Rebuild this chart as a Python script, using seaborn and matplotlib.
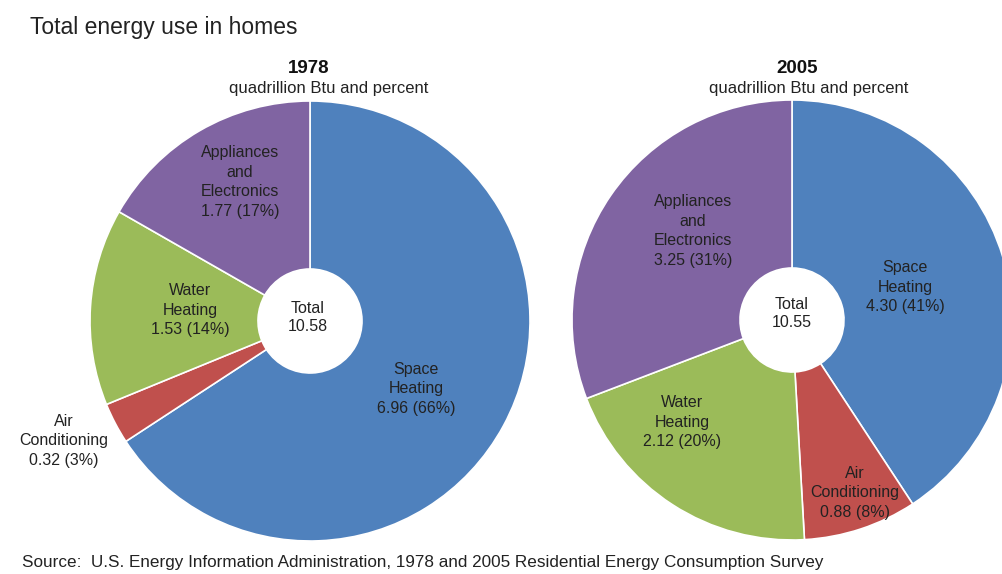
import matplotlib
matplotlib.use("Agg")
import matplotlib.pyplot as plt
import seaborn as sns

# data
categories = ["Space\nHeating", "Air\nConditioning", "Water\nHeating", "Appliances\nand\nElectronics"]
use_1978 = [6.96, 0.32, 1.53, 1.77]
pct_1978 = [66, 3, 14, 17]
total_1978 = 10.58
use_2005 = [4.30, 0.88, 2.12, 3.25]
pct_2005 = [41, 8, 20, 31]
total_2005 = 10.55

sns.set_theme(style="white")
plt.rcParams["font.family"] = ["Liberation Sans", "DejaVu Sans"]
colors = ["#4f81bd", "#c0504d", "#9bbb59", "#8064a2"]

W, H = 1003, 574
fig = plt.figure(figsize=(W / 100, H / 100), dpi=100)
ax = fig.add_axes([0, 0, 1, 1])

R, HOLE = 220, 52
pies = [
    (use_1978, pct_1978, total_1978, "1978", (310, H - 321), (308, H - 317), (309, 329),
     [(416, H - 389), (64, H - 441), (190, H - 310), (240, H - 182)]),
    (use_2005, pct_2005, total_2005, "2005", (792, H - 320), (792, H - 313), (797, 809),
     [(905, H - 287), (855, H - 493), (682, H - 422), (693, H - 231)]),
]

txt = "#222222"
fs = 11.5
for vals, pcts, total, year, center, tot_pos, head_x, label_pos in pies:
    ax.pie(vals, colors=colors, startangle=90, counterclock=False,
           center=center, radius=R,
           wedgeprops=dict(width=R - HOLE, edgecolor="white", linewidth=1.2))
    for cat, v, p, (lx, ly) in zip(categories, vals, pcts, label_pos):
        ax.text(lx, ly, f"{cat}\n{v:.2f} ({p}%)", ha="center", va="center",
                fontsize=fs, color=txt, linespacing=1.38)
    ax.text(tot_pos[0], tot_pos[1], f"Total\n{total:.2f}", ha="center", va="center",
            fontsize=fs, color=txt, linespacing=1.25)
    ax.text(head_x[0], H - 68, year, ha="center", va="center",
            fontsize=13.5, fontweight="bold", color="#111111")
    ax.text(head_x[1], H - 88, "quadrillion Btu and percent", ha="center", va="center",
            fontsize=12, color=txt)

ax.text(30, H - 27, "Total energy use in homes", ha="left", va="center",
        fontsize=16.5, color=txt)
ax.text(22, H - 563, "Source:  U.S. Energy Information Administration, 1978 and 2005 Residential Energy Consumption Survey",
        ha="left", va="center", fontsize=12.3, color=txt)

ax.set_xlim(0, W)
ax.set_ylim(0, H)
ax.set_aspect("equal")
ax.axis("off")

fig.savefig("out.png", dpi=100)
